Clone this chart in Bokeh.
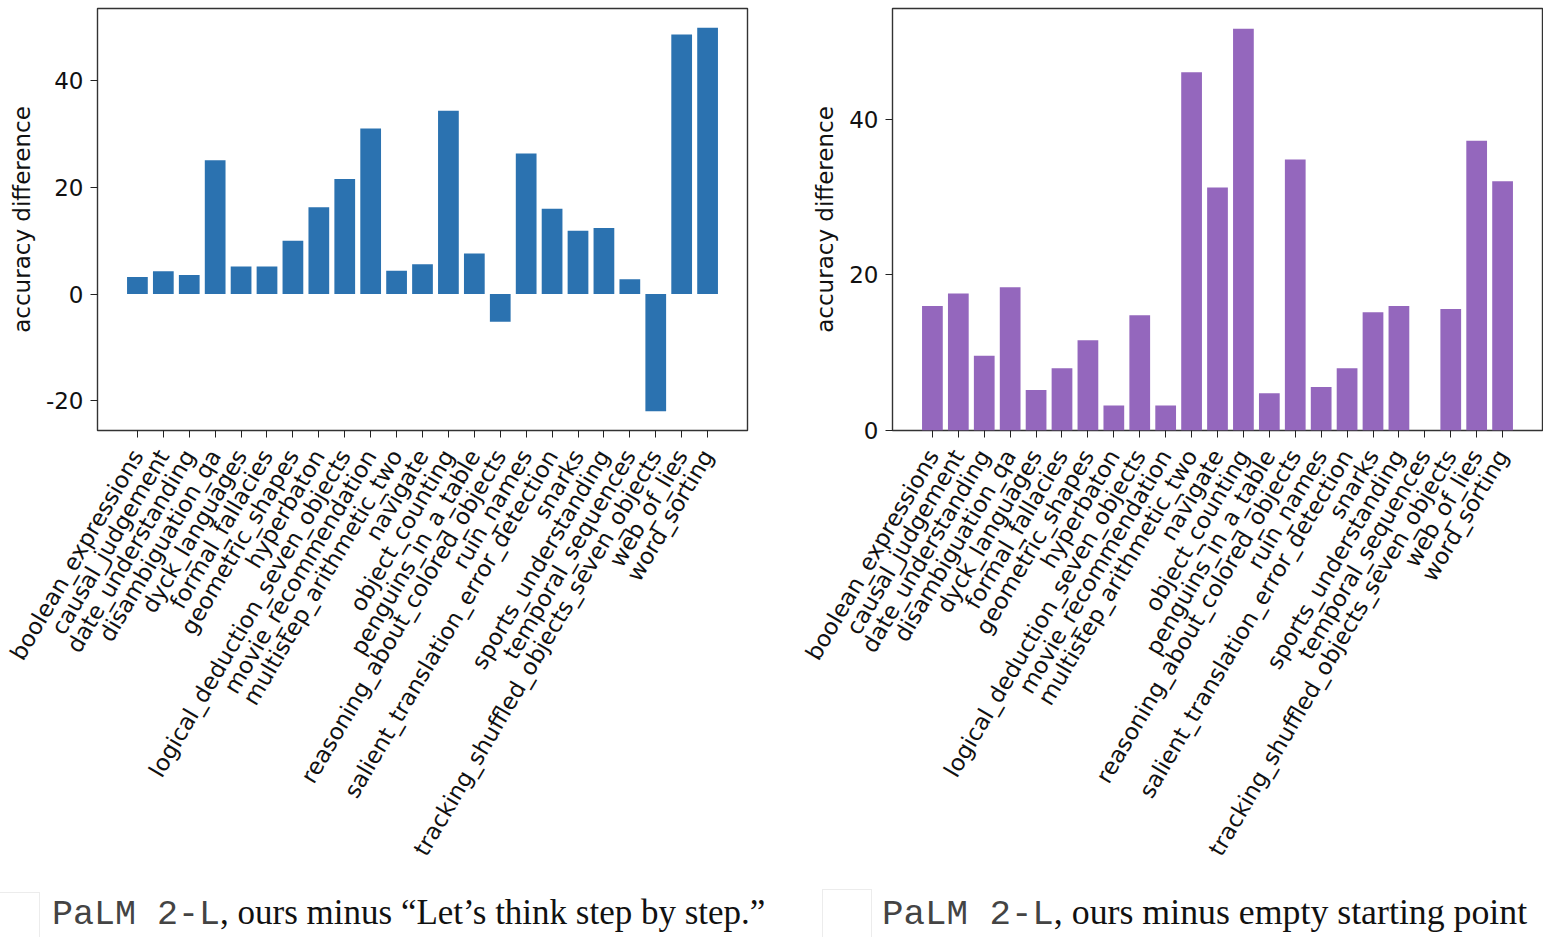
from bokeh.plotting import figure
from bokeh.models import FactorRange, Range1d, FixedTicker, Div
from bokeh.layouts import column, row
from bokeh.embed import file_html
from bokeh.resources import INLINE

tasks = [
    "boolean_expressions", "causal_judgement", "date_understanding",
    "disambiguation_qa", "dyck_languages", "formal_fallacies",
    "geometric_shapes", "hyperbaton", "logical_deduction_seven_objects",
    "movie_recommendation", "multistep_arithmetic_two", "navigate",
    "object_counting", "penguins_in_a_table",
    "reasoning_about_colored_objects", "ruin_names",
    "salient_translation_error_detection", "snarks",
    "sports_understanding", "temporal_sequences",
    "tracking_shuffled_objects_seven_objects", "web_of_lies", "word_sorting",
]

diff_step_by_step = [3.2, 4.3, 3.6, 25.1, 5.2, 5.2, 10.0, 16.3, 21.6, 31.1,
                     4.4, 5.6, 34.4, 7.6, -5.2, 26.4, 16.0, 11.9, 12.4, 2.8,
                     -22.0, 48.7, 50.0]

diff_empty = [16.0, 17.6, 9.6, 18.4, 5.2, 8.0, 11.6, 3.2, 14.8, 3.2,
              46.0, 31.2, 51.6, 4.8, 34.8, 5.6, 8.0, 15.2, 16.0, 0.0,
              15.6, 37.2, 32.0]

left_ticks = [-20, 0, 20, 40]
right_ticks = [0, 20, 40]

caption_model = "PaLM 2-L"
caption_left = ", ours minus \u201cLet\u2019s think step by step.\u201d"
caption_right = ", ours minus empty starting point"

FONT = "DejaVu Sans"
FS = "23px"


def make_chart(values, color, yrange, ticks, width, border_left, border_right):
    p = figure(
        x_range=FactorRange(factors=tasks, range_padding=1.04,
                            range_padding_units="absolute"),
        y_range=Range1d(*yrange),
        width=width, height=870,
        min_border_left=border_left, min_border_right=border_right,
        min_border_top=8, min_border_bottom=440,
        output_backend="svg", toolbar_location=None,
    )
    p.vbar(x=tasks, top=values, bottom=0, width=0.8, fill_color=color,
           line_color=None)
    p.xgrid.visible = False
    p.ygrid.visible = False
    p.outline_line_color = "#333333"
    p.outline_line_width = 1.4
    p.background_fill_color = "white"
    p.border_fill_color = "white"

    xa = p.xaxis[0]
    xa.axis_line_color = None
    xa.major_tick_in = 0
    xa.major_tick_out = 7
    xa.major_tick_line_color = "#222222"
    xa.major_label_orientation = 1.04
    xa.major_label_text_font = FONT
    xa.major_label_text_font_size = FS
    xa.major_label_text_color = "#111111"
    xa.major_label_standoff = 14

    ya = p.yaxis[0]
    ya.ticker = FixedTicker(ticks=ticks)
    ya.major_label_overrides = {t: str(t) for t in ticks}
    ya.minor_tick_line_color = None
    ya.axis_line_color = None
    ya.major_tick_in = 0
    ya.major_tick_out = 7
    ya.major_tick_line_color = "#222222"
    ya.major_label_text_font = FONT
    ya.major_label_text_font_size = FS
    ya.major_label_text_color = "#111111"
    ya.major_label_standoff = 7
    ya.axis_label = "accuracy difference"
    ya.axis_label_text_font = FONT
    ya.axis_label_text_font_size = FS
    ya.axis_label_text_font_style = "normal"
    ya.axis_label_text_color = "#111111"
    ya.axis_label_standoff = 8
    return p


p1 = make_chart(diff_step_by_step, "#2b72b0", (-25.6, 53.6), left_ticks,
                800, 97, 53)
p2 = make_chart(diff_empty, "#9467bd", (0, 54.2), right_ticks,
                743, 92, 1)


def caption(text, left, box_left, box_top, box_w, width, size):
    html = (
        f'<div style="position:relative;width:{width}px;height:67px;">'
        f'<div style="position:absolute;left:{box_left}px;top:{box_top}px;'
        f'width:{box_w}px;height:{67 - box_top}px;border:1px solid #ececec;'
        f'border-bottom:none;"></div>'
        f'<div style="position:absolute;left:{left}px;top:22px;'
        f'white-space:pre;font-size:{size}px;line-height:40px;color:#111;">'
        f'<span style="font-family:\'Liberation Mono\';color:#444;">'
        f'{caption_model}</span>'
        f'<span style="font-family:\'Liberation Serif\';">{text}</span>'
        f'</div></div>'
    )
    return Div(text=html, width=width, height=67, margin=(0, 0, 0, 0))


d1 = caption(caption_left, 52, -2, 22, 42, 800, 35)
d2 = caption(caption_right, 82, 22, 19, 50, 743, 35.8)

layout = column(row(p1, p2), row(d1, d2))

open("out.html", "w").write(file_html(layout, INLINE))
